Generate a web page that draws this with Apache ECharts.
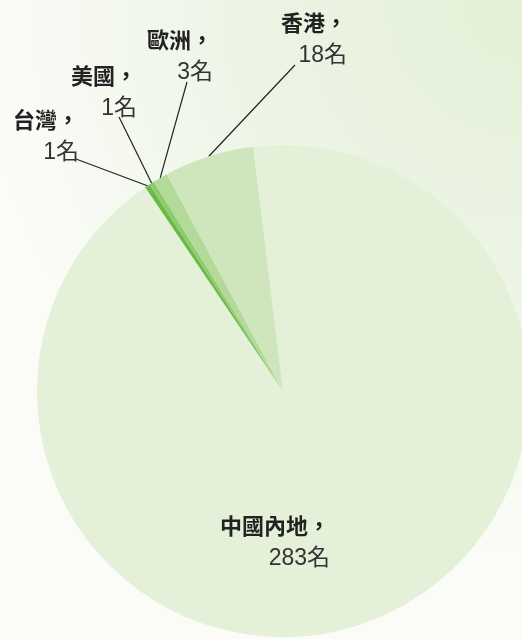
<!DOCTYPE html>
<html>
<head>
<meta charset="utf-8">
<script src="https://cdn.jsdelivr.net/npm/echarts@6/dist/echarts.min.js"></script>
<style>
  html, body { margin: 0; padding: 0; }
  #chart { width: 522px; height: 639px; }
</style>
</head>
<body>
<div id="chart"></div>
<script>
// 來源地分佈
const regions = ['中國內地', '台灣', '美國', '歐洲', '香港'];
const counts = [283, 1, 1, 3, 18];
const sliceColors = ['#e4f1d8', '#6bba48', '#8dcb6c', '#b3da99', '#cfe6bc'];

// label anchors (right / top of each text block) and where the leader line leaves the label
const labelSpots = [[330, 512], [79, 106], [137, 62], [213, 26], [347, 9]];
const lineEnds = [null, [76, 159], [119, 117], [187, 82], [295, 65]];

const chart = echarts.init(document.getElementById('chart'));

const items = regions.map((name, i) => ({
  name: name,
  value: counts[i],
  itemStyle: { color: sliceColors[i] },
  labelLine: { show: i !== 0 }
}));

chart.setOption({
  backgroundColor: {
    type: 'radial', x: 1, y: 0, r: 1.05,
    colorStops: [
      { offset: 0, color: '#e3f0d6' },
      { offset: 0.55, color: '#eef5e7' },
      { offset: 1, color: '#fbfcf8' }
    ]
  },
  animation: false,
  series: [{
    type: 'pie',
    center: [283, 391],
    radius: 246,
    startAngle: 97,
    clockwise: true,
    avoidLabelOverlap: false,
    data: items,
    label: {
      show: true,
      position: 'outside',
      formatter: '{n|{b}，}\n{v|{c}名}',
      align: 'right',
      rich: {
        n: {
          fontFamily: '"Liberation Sans", "Noto Sans CJK TC"',
          fontSize: 22, fontWeight: 'bold', color: '#222',
          lineHeight: 31, align: 'right'
        },
        v: {
          fontFamily: '"Liberation Sans", "Noto Sans CJK TC"',
          fontSize: 23, color: '#333',
          lineHeight: 31, align: 'right'
        }
      }
    },
    labelLine: {
      show: true,
      length: 20,
      length2: 0,
      smooth: false,
      lineStyle: { color: '#222', width: 1.2 }
    },
    labelLayout: function (params) {
      const i = params.dataIndex;
      const p = labelSpots[i];
      const out = { x: p[0], y: p[1], align: 'right', verticalAlign: 'top' };
      if (lineEnds[i] && params.labelLinePoints) {
        out.labelLinePoints = [params.labelLinePoints[0], lineEnds[i], lineEnds[i]];
      }
      return out;
    }
  }]
});
</script>
</body>
</html>
